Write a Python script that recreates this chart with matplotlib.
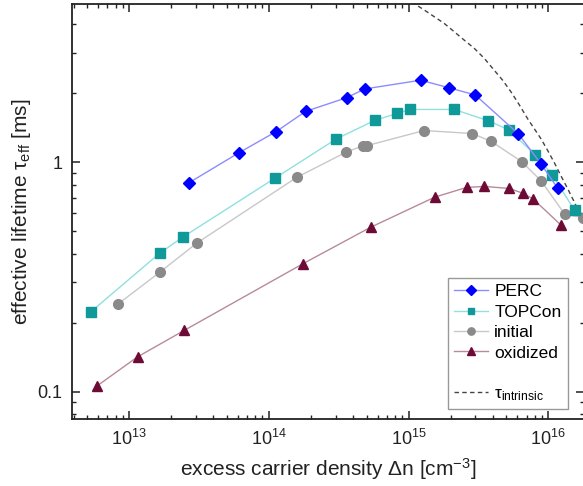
import matplotlib
matplotlib.use("Agg")
import matplotlib.pyplot as plt
from matplotlib import ticker
from matplotlib.lines import Line2D

plt.rcParams['font.family'] = ['Liberation Sans', 'DejaVu Sans']
plt.rcParams['mathtext.fontset'] = 'custom'
plt.rcParams['mathtext.rm'] = 'Liberation Sans'
plt.rcParams['mathtext.it'] = 'Liberation Sans:italic'
plt.rcParams['mathtext.bf'] = 'Liberation Sans:bold'

# ---- data ----
perc_x = [2.66e13, 6.08e13, 1.13e14, 1.83e14, 3.6e14, 4.85e14, 1.22e15, 1.93e15,
          3.0e15, 6.1e15, 8.87e15, 1.17e16]
perc_y = [0.812, 1.099, 1.362, 1.667, 1.913, 2.088, 2.28, 2.116,
          1.966, 1.331, 0.983, 0.769]

topcon_x = [5.31e12, 1.65e13, 2.43e13, 1.10e14, 3.04e14, 5.78e14, 8.31e14, 1.024e15,
            2.12e15, 3.72e15, 5.2e15, 8.03e15, 1.07e16, 1.54e16]
topcon_y = [0.2226, 0.401, 0.4725, 0.851, 1.265, 1.527, 1.634, 1.70,
            1.70, 1.517, 1.386, 1.08, 0.88, 0.618]

initial_x = [8.29e12, 1.66e13, 3.06e13, 1.585e14, 3.56e14, 4.74e14, 5.07e14, 1.29e15,
             2.85e15, 3.88e15, 6.44e15, 8.87e15, 1.31e16, 1.76e16]
initial_y = [0.2405, 0.332, 0.445, 0.86, 1.106, 1.183, 1.183, 1.376,
             1.335, 1.236, 1.007, 0.831, 0.594, 0.574]

oxidized_x = [5.93e12, 1.148e13, 2.48e13, 1.75e14, 5.35e14, 1.54e15, 2.6e15, 3.48e15,
              5.25e15, 6.62e15, 7.81e15, 1.23e16]
oxidized_y = [0.1062, 0.1418, 0.185, 0.361, 0.521, 0.705, 0.777, 0.785,
              0.769, 0.732, 0.691, 0.533]

intrinsic_x = [1.05e15, 1.29e15, 1.52e15, 1.80e15, 2.12e15, 2.50e15, 2.95e15, 3.48e15,
               4.1e15, 4.71e15, 5.4e15, 6.2e15, 7.11e15, 7.94e15, 8.87e15, 9.9e15,
               1.10e16, 1.23e16, 1.38e16, 1.54e16, 1.71e16, 2.0e16]
intrinsic_y = [5.0, 4.62, 4.32, 4.03, 3.71, 3.41, 3.14, 2.84,
               2.52, 2.28, 2.03, 1.78, 1.549, 1.40, 1.265, 1.125,
               1.0, 0.874, 0.764, 0.668, 0.584, 0.48]

series_labels = ['PERC', 'TOPCon', 'initial', 'oxidized']
intrinsic_label = r'τ$_{\mathrm{intrinsic}}$'

# ---- figure ----
fig = plt.figure(figsize=(5.83, 4.86), dpi=100)
ax = fig.add_axes([72/583, 1 - 419/486, 512/583, 415/486])

l1, = ax.plot(perc_x, perc_y, '-', color='#8c8cff', lw=1.0, marker='D', ms=6.5,
              mfc='#0000ff', mec='#0000ff', label=series_labels[0], zorder=5)
l2, = ax.plot(topcon_x, topcon_y, '-', color='#8fe0e0', lw=1.0, marker='s', ms=6.5,
              mfc='#0f9999', mec='#0f9999', label=series_labels[1], zorder=4)
l3, = ax.plot(initial_x, initial_y, '-', color='#c8c8c8', lw=1.0, marker='o', ms=7,
              mfc='#8a8a8a', mec='#8a8a8a', label=series_labels[2], zorder=3)
l4, = ax.plot(oxidized_x, oxidized_y, '-', color='#b88a9c', lw=1.0, marker='^', ms=7.5,
              mfc='#6e0a36', mec='#6e0a36', label=series_labels[3], zorder=3)
l5, = ax.plot(intrinsic_x, intrinsic_y, color='#444444', lw=1.0, dashes=(3.2, 2.4),
              label=intrinsic_label, zorder=2)

ax.set_xscale('log')
ax.set_yscale('log')
ax.set_xlim(3.9e12, 1.80e16)
ax.set_ylim(0.076, 4.9)

ax.yaxis.set_major_locator(ticker.FixedLocator([0.1, 1]))
ax.yaxis.set_major_formatter(ticker.FuncFormatter(lambda v, p: f'{v:g}'))
ax.yaxis.set_minor_locator(ticker.LogLocator(base=10, subs=range(2, 10), numticks=20))
ax.yaxis.set_minor_formatter(ticker.NullFormatter())
ax.xaxis.set_major_locator(ticker.LogLocator(base=10, numticks=20))
ax.xaxis.set_minor_locator(ticker.LogLocator(base=10, subs=range(2, 10), numticks=20))
ax.xaxis.set_minor_formatter(ticker.NullFormatter())

ax.tick_params(which='both', direction='in', top=True, right=True, colors='#222222',
               labelcolor='#222222', labelsize=13)
ax.tick_params(which='major', length=6, width=1.1, pad=7)
ax.tick_params(which='minor', length=3, width=1.0)
for s in ax.spines.values():
    s.set_linewidth(1.3)
    s.set_color('#222222')

ax.set_xlabel(r'excess carrier density Δn [cm$^{-3}$]', fontsize=15, labelpad=5,
              color='#222222')
ax.set_ylabel(r'effective lifetime τ$_{\mathrm{eff}}$ [ms]', fontsize=15, labelpad=3,
              color='#222222')

blank = Line2D([], [], color='none')
leg = ax.legend([l1, l2, l3, l4, blank, l5],
                series_labels + [' ', intrinsic_label],
                loc='lower right', bbox_to_anchor=(0.968, 0.024),
                fontsize=12.5, frameon=True, fancybox=False, edgecolor='#999999',
                framealpha=1, handlelength=1.95, handletextpad=0.35,
                labelspacing=0.3, borderpad=0.35, borderaxespad=0, markerscale=0.75)
leg.get_frame().set_linewidth(1.0)

fig.savefig('out.png', dpi=100)
